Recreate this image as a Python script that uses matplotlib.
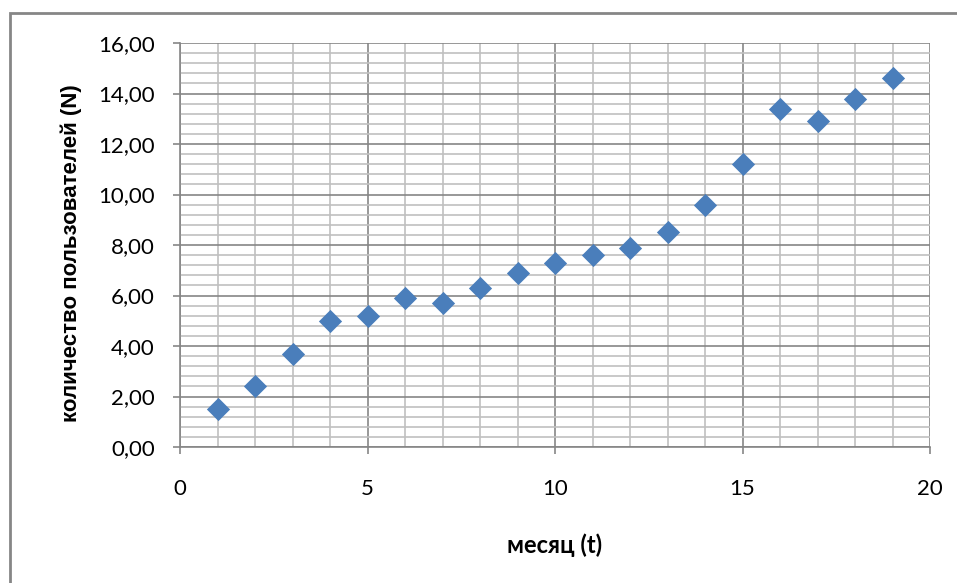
import matplotlib.pyplot as plt
from matplotlib.ticker import MultipleLocator, FuncFormatter
from matplotlib.patches import Rectangle

months = [1, 2, 3, 4, 5, 6, 7, 8, 9, 10, 11, 12, 13, 14, 15, 16, 17, 18, 19]
users = [1.5, 2.4, 3.7, 5.0, 5.2, 5.9, 5.7, 6.3, 6.9, 7.3, 7.6, 7.9, 8.5, 9.6, 11.2, 13.4, 12.9, 13.8, 14.6]

fig = plt.figure(figsize=(9.57, 5.83), dpi=100)
ax = fig.add_axes([180 / 957, 136 / 583, 750 / 957, 404 / 583])

# outer frame of the chart area (only left and top edges visible)
fig.patches.append(Rectangle((10 / 957, -0.1), 1.1, (583 - 13) / 583 + 0.1,
                             transform=fig.transFigure, fill=False,
                             edgecolor='#868686', linewidth=2))

ax.scatter(months, users, marker='D', s=140, color='#4A7EBB', zorder=3, linewidths=0)

ax.set_xlim(0, 20)
ax.set_ylim(0, 16)
ax.xaxis.set_major_locator(MultipleLocator(5))
ax.xaxis.set_minor_locator(MultipleLocator(1))
ax.yaxis.set_major_locator(MultipleLocator(2))
ax.yaxis.set_minor_locator(MultipleLocator(0.4))
ax.yaxis.set_major_formatter(FuncFormatter(lambda v, p: f"{v:.2f}".replace('.', ',')))

ax.grid(which='major', color='#868686', linewidth=1.2)
ax.grid(which='minor', color='#C0C0C0', linewidth=1.2)
ax.set_axisbelow(True)

for s in ['top', 'right']:
    ax.spines[s].set_visible(False)
for s in ['left', 'bottom']:
    ax.spines[s].set_color('#868686')
    ax.spines[s].set_linewidth(1.2)

ax.tick_params(which='major', length=5, width=1.2, color='#868686', labelsize=16)
ax.tick_params(axis='x', pad=18)
ax.tick_params(axis='y', pad=13)
ax.tick_params(which='minor', length=0)
for lab in ax.get_xticklabels() + ax.get_yticklabels():
    lab.set_family('Lato')

ax.set_xlabel("месяц (t)", fontsize=17, fontweight='bold', family='Lato')
ax.set_ylabel("количество пользователей (N)", fontsize=16, fontweight='bold',
              family='Liberation Sans')
ax.xaxis.set_label_coords(0.5, -0.215)
ax.yaxis.set_label_coords(-0.13, 0.48)

fig.savefig("out.png", dpi=100)
